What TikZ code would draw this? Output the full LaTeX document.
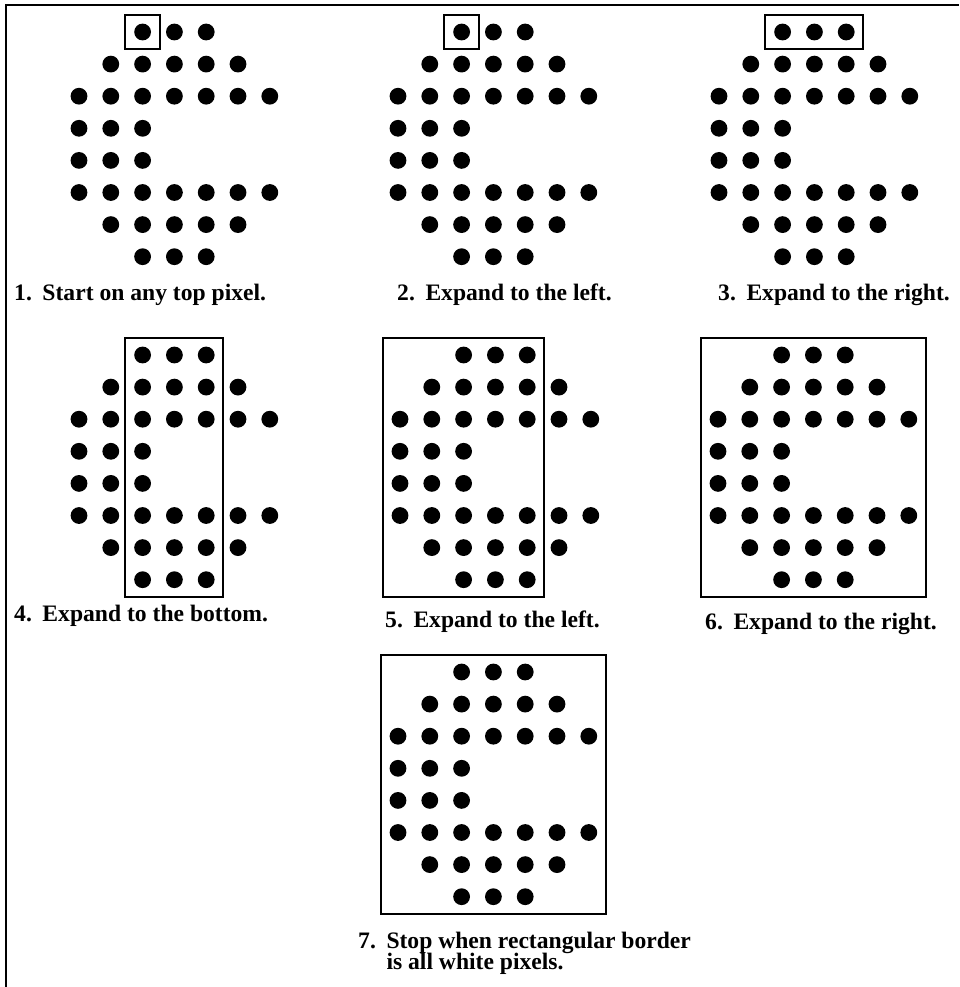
\documentclass[tikz,border=0pt]{standalone}
\usepackage{fontspec}
\setmainfont{Liberation Serif}
\usetikzlibrary{fit}
\tikzset{
  pix/.style={circle,fill=black,inner sep=0pt,minimum size=16.8pt},
  frameline/.style={draw=black,line width=2.5pt},
  scanbox/.style={draw=black,line width=2pt,inner sep=8.6pt},
  steplabel/.style={font=\bfseries\fontsize{23.6}{17.5}\selectfont,anchor=base west,inner sep=0pt}
}
\newcommand\drawglyph[3]{%
  \foreach \r/\a/\b in {1/3/5,2/2/6,3/1/7,4/1/3,5/1/3,6/1/7,7/2/6,8/3/5}{
    \foreach \c in {\a,...,\b}{
      \node[pix] (#1-\r-\c) at ({#2+79+31.8*(\c-1)},{#3+32+32.1*(\r-1)}) {};
    }
  }%
}
\begin{document}
\begin{tikzpicture}[x=1pt,y=-1pt]
\useasboundingbox (0,0) rectangle (959,987);
% outer frame (only top and left edges visible)
\coordinate (fbl) at (6,987);
\coordinate (ftl) at (6,5);
\coordinate (ftr) at (959,5);
\draw[frameline] (fbl) -- (ftl) -- (ftr);

% panel 1
\drawglyph{a}{0}{0}
\node[scanbox,fit=(a-1-3)] (boxa) {};
\node[steplabel] (capa) at (14,300) {1.\hspace{0.45em}Start on any top pixel.};

% panel 2
\drawglyph{b}{319}{0}
\node[scanbox,fit=(b-1-3)] (boxb) {};
\node[steplabel] (capb) at (397,300) {2.\hspace{0.45em}Expand to the left.};

% panel 3
\drawglyph{c}{640}{0}
\node[scanbox,fit=(c-1-3)(c-1-5)] (boxc) {};
\node[steplabel] (capc) at (718,300) {3.\hspace{0.45em}Expand to the right.};

% panel 4
\drawglyph{d}{0}{323}
\node[scanbox,fit=(d-1-3)(d-8-5)] (boxd) {};
\node[steplabel] (capd) at (14,621) {4.\hspace{0.45em}Expand to the bottom.};

% panel 5
\drawglyph{e}{321}{323}
\node[scanbox,fit=(e-3-1)(e-1-5)(e-8-5)] (boxe) {};
\node[steplabel] (cape) at (385,627) {5.\hspace{0.45em}Expand to the left.};

% panel 6
\drawglyph{f}{639}{323}
\node[scanbox,fit=(f-3-1)(f-3-7)(f-1-3)(f-8-3)] (boxf) {};
\node[steplabel] (capf) at (705,629) {6.\hspace{0.45em}Expand to the right.};

% panel 7
\drawglyph{g}{319}{640}
\node[scanbox,fit=(g-3-1)(g-3-7)(g-1-3)(g-8-3)] (boxg) {};
\node[steplabel] (capg) at (358,948) {\begin{tabular}[t]{@{}l@{\hspace{0.45em}}l@{}}7. & Stop when rectangular border\\ & is all white pixels.\end{tabular}};
\end{tikzpicture}
\end{document}
